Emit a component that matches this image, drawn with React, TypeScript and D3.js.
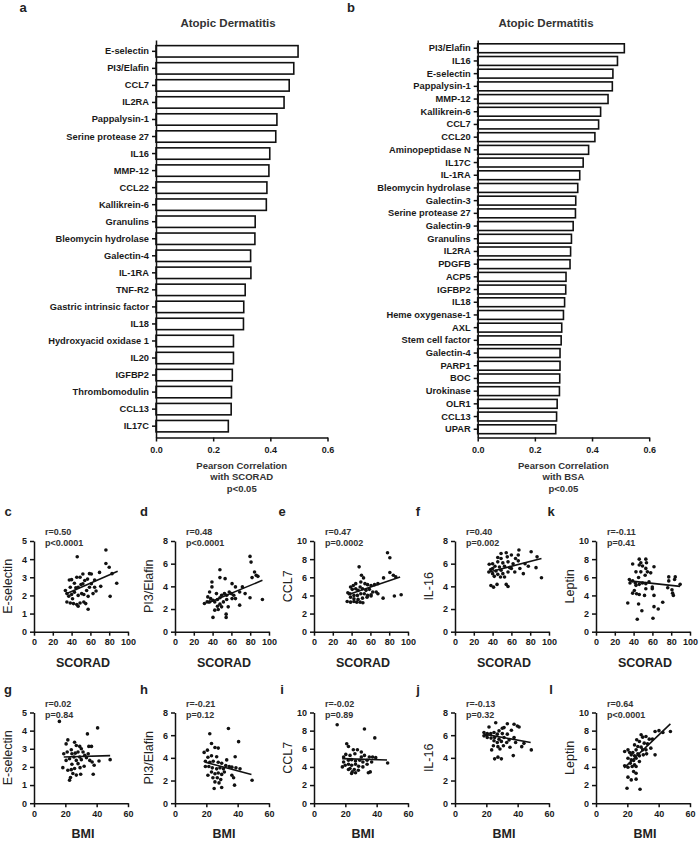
import React, { useEffect, useRef } from "react";
import * as d3 from "d3";

const FONT = "'Liberation Sans', Arial, Helvetica, sans-serif";

// panel a: correlation with SCORAD
const scoradProteins = [
  "E-selectin", "PI3/Elafin", "CCL7", "IL2RA", "Pappalysin-1", "Serine protease 27",
  "IL16", "MMP-12", "CCL22", "Kallikrein-6", "Granulins", "Bleomycin hydrolase",
  "Galectin-4", "IL-1RA", "TNF-R2", "Gastric intrinsic factor", "IL18",
  "Hydroxyacid oxidase 1", "IL20", "IGFBP2", "Thrombomodulin", "CCL13", "IL17C",
];
const scoradCorr = [
  0.497, 0.482, 0.466, 0.448, 0.423, 0.419, 0.398, 0.395, 0.388, 0.386, 0.347, 0.346,
  0.331, 0.332, 0.312, 0.307, 0.306, 0.271, 0.271, 0.267, 0.264, 0.263, 0.253,
];

// panel b: correlation with BSA
const bsaProteins = [
  "PI3/Elafin", "IL16", "E-selectin", "Pappalysin-1", "MMP-12", "Kallikrein-6", "CCL7",
  "CCL20", "Aminopeptidase N", "IL17C", "IL-1RA", "Bleomycin hydrolase", "Galectin-3",
  "Serine protease 27", "Galectin-9", "Granulins", "IL2RA", "PDGFB", "ACP5", "IGFBP2",
  "IL18", "Heme oxygenase-1", "AXL", "Stem cell factor", "Galectin-4", "PARP1", "BOC",
  "Urokinase", "OLR1", "CCL13", "UPAR",
];
const bsaCorr = [
  0.513, 0.489, 0.473, 0.471, 0.456, 0.43, 0.423, 0.41, 0.388, 0.369, 0.357, 0.35, 0.343,
  0.342, 0.334, 0.328, 0.325, 0.323, 0.309, 0.308, 0.304, 0.3, 0.294, 0.292, 0.288, 0.288,
  0.287, 0.286, 0.278, 0.276, 0.273,
];
const corrTicks = [0, 0.2, 0.4, 0.6];

// scatter data [x, y]
const eselScorad = [
  [46, 4.13], [76.5, 4.5], [76.5, 3.76], [80, 3.55], [83, 3.2], [88, 2.67], [81, 1.95],
  [57.6, 1.24], [69.7, 3.27], [61, 3.18], [59, 3.2], [52, 3.18], [49, 3.0], [45.5, 3.0],
  [40, 2.87], [37.6, 2.85], [33.4, 2.27], [35, 2.1], [35, 1.64], [38.6, 1.58], [42, 1.55],
  [45.5, 1.5], [47, 1.4], [49, 1.58], [53, 1.64], [55, 1.55], [37, 1.96], [40, 2.05],
  [43, 2.18], [44.5, 2.42], [47, 2.45], [50, 2.6], [52, 2.64], [54, 2.82], [57, 2.9],
  [47, 2.0], [50.7, 2.1], [53, 2.05], [56, 2.27], [59, 2.45], [61, 2.64], [64.5, 2.45],
  [66, 2.24], [71, 2.5], [64.5, 2.85], [43, 2.67], [38.6, 2.45], [41, 1.82], [62.8, 2.1],
  [57.6, 1.95],
];
const pi3Scorad = [
  [79.8, 6.64], [80.9, 6.14], [84.6, 5.26], [86.4, 4.97], [88.2, 4.88], [82, 4.77],
  [93, 2.84], [79.8, 3.0], [71.7, 3.95], [74.6, 3.36], [68.8, 3.5], [64.3, 3.95],
  [60.7, 4.24], [53.3, 4.68], [47.8, 5.47], [47.8, 4.77], [39.3, 4.39], [39.3, 3.95],
  [36.8, 3.5], [34.9, 3.07], [37.9, 2.92], [40.4, 2.78], [42.3, 2.63], [45.2, 2.84],
  [47.8, 3.0], [49.6, 3.22], [52.6, 3.36], [55, 3.22], [57.7, 3.5], [59.9, 3.36],
  [62.5, 3.22], [60.7, 2.92], [55, 2.84], [51.5, 2.63], [47.8, 2.43], [45.2, 2.25],
  [49.6, 2.19], [46, 1.96], [42.3, 1.9], [40.4, 1.26], [54.4, 1.55], [54.4, 1.26],
  [68.8, 2.34], [56.6, 2.19], [44.1, 3.36], [64.3, 2.92], [36.8, 2.63], [31.3, 2.49],
  [34.2, 2.63],
];
const ccl7Scorad = [
  [78.2, 8.7], [80.7, 8.15], [48, 7.15], [50.5, 6.22], [52.7, 5.93], [80.7, 6.52],
  [84.4, 6.22], [87, 6.04], [74, 5.93], [68, 5.3], [64.4, 5.19], [60.7, 5.1], [57, 5.19],
  [54.2, 5.3], [49.8, 5.48], [44.4, 5.3], [41.8, 5.1], [38.9, 4.93], [40.7, 4.67],
  [44.4, 4.74], [46.9, 4.56], [51.6, 4.74], [55.3, 4.56], [58.9, 4.67], [62.5, 4.37],
  [60.7, 4.07], [57, 4.0], [53.5, 4.19], [49.8, 4.19], [46.2, 4.0], [42.5, 4.0],
  [38.2, 4.19], [36, 4.3], [38.9, 3.81], [42.5, 3.63], [46.9, 3.56], [51.6, 3.7],
  [56.4, 3.81], [60.7, 3.93], [35.3, 3.33], [38.9, 3.26], [42.5, 3.33], [45.5, 3.26],
  [49.1, 3.26], [52, 3.19], [73.5, 3.7], [85.5, 3.93], [92.7, 4.07], [66.2, 4.37],
  [68, 4.19], [49.1, 4.93],
];
const il16Scorad = [
  [68, 7.2], [81, 7.05], [49, 6.9], [54.5, 6.96], [60, 6.76], [67.3, 6.76], [64.4, 6.46],
  [55.6, 6.6], [49, 6.46], [45.5, 6.55], [40, 6.0], [45.5, 6.16], [50.9, 6.07],
  [56.4, 6.16], [61.8, 6.0], [67.3, 6.25], [74.5, 6.0], [87.3, 6.6], [86.2, 5.65],
  [92, 4.76], [72.7, 5.12], [63.6, 5.27], [36, 5.27], [38, 5.48], [40, 5.57], [42.5, 5.77],
  [47.3, 5.71], [52.7, 5.77], [58.2, 5.65], [49, 5.42], [43.6, 5.36], [40, 5.12],
  [45.5, 5.06], [50.9, 5.12], [48.4, 4.82], [41.8, 4.88], [52.7, 4.82], [38.2, 4.08],
  [41, 3.93], [44.7, 4.17], [54.5, 4.17], [56.4, 3.99], [60, 5.57], [69, 5.57], [78, 5.77],
  [36.4, 5.95], [56.4, 5.27],
];
const leptinScorad = [
  [46, 8.0], [53, 8.0], [53.7, 7.6], [47.7, 7.6], [39, 7.46], [46, 7.35], [49.5, 7.24],
  [61.7, 7.16], [53, 6.98], [42.5, 6.6], [47.7, 6.6], [54.7, 6.6], [58.2, 6.49],
  [45.3, 5.97], [52.3, 6.23], [77.4, 6.04], [84.3, 6.04], [83.6, 5.75], [77.4, 5.6],
  [35.5, 5.75], [36.2, 5.37], [39, 5.6], [41.8, 5.37], [46, 5.22], [49.5, 5.37], [53, 5.3],
  [56.4, 5.49], [42.5, 5.11], [40.8, 4.55], [43.2, 4.18], [39, 4.25], [46, 4.1], [53, 4.74],
  [59.9, 4.74], [59.9, 4.93], [51.6, 4.0], [61.7, 4.0], [76.3, 4.85], [80.8, 4.63],
  [81.5, 4.25], [82.3, 4.0], [89.5, 5.22], [71, 3.25], [33.8, 3.17], [45.3, 3.06],
  [48.8, 2.31], [61.7, 2.76], [66.2, 2.5], [43.9, 1.38], [60.6, 1.49],
];
const eselBmi = [
  [16.2, 4.51], [40.6, 4.15], [34.1, 3.82], [21.6, 3.49], [20.5, 3.27], [25.9, 3.36],
  [27, 3.18], [29.2, 3.13], [30.2, 3.0], [35, 3.13], [36.7, 3.13], [23.8, 2.95],
  [21.2, 2.82], [19, 2.73], [24.2, 2.73], [26.3, 2.76], [28.1, 2.82], [31.3, 2.82],
  [32.4, 2.64], [29.2, 2.55], [25.5, 2.55], [22.7, 2.45], [27, 2.36], [30.2, 2.4],
  [33.5, 2.51], [37.1, 2.27], [41.5, 2.33], [48.6, 2.4], [38.4, 2.09], [24.2, 2.15],
  [28.1, 2.18], [25.9, 1.91], [23.8, 1.85], [21.6, 1.82], [18.4, 1.96], [29.4, 1.96],
  [37.8, 1.6], [24.8, 1.64], [27, 1.55], [29.8, 1.6], [23.3, 1.42], [22.7, 1.27],
  [32, 2.04], [34.6, 2.73], [35.6, 2.36], [20.5, 2.36],
];
const pi3Bmi = [
  [34.1, 6.59], [22.2, 6.13], [23.3, 5.26], [40.6, 5.43], [25.5, 4.91], [27.6, 4.86],
  [20.7, 4.68], [18.6, 4.48], [38.4, 4.1], [21, 4.05], [23.3, 4.19], [26.6, 4.1],
  [19.4, 3.7], [22.2, 3.61], [24.4, 3.7], [27.6, 3.61], [29.8, 3.53], [32.4, 3.32],
  [34.6, 3.24], [19.4, 3.24], [21.6, 3.24], [23.8, 3.12], [26.6, 3.03], [28.7, 3.12],
  [30.9, 3.03], [36.3, 3.18], [38.9, 3.12], [41.5, 3.03], [23.3, 2.75], [25.5, 2.6],
  [27.6, 2.66], [29.8, 2.54], [21, 2.46], [24.2, 2.25], [27, 2.25], [29.2, 2.08],
  [25.5, 1.88], [28.1, 1.79], [36.3, 2.46], [37.4, 2.25], [49.2, 2.02], [38, 1.59],
  [25, 1.3], [29.8, 1.39], [31.5, 2.75], [33, 3.82],
];
const ccl7Bmi = [
  [14.8, 8.65], [32.2, 8.18], [38.8, 7.2], [20.9, 6.55], [22, 6.25], [25.1, 5.89],
  [27.7, 5.89], [30.2, 5.64], [20.3, 5.38], [18.9, 5.09], [23, 5.27], [26.1, 5.45],
  [32.2, 5.27], [35.3, 5.09], [37.4, 5.09], [39.4, 5.02], [22, 4.73], [24, 4.8],
  [26.5, 4.65], [29.2, 4.73], [31.2, 4.55], [33.9, 4.73], [18.9, 4.55], [19.9, 4.18],
  [22, 4.29], [24, 4.18], [26.5, 4.29], [28.5, 4.07], [31.2, 4.0], [33.9, 4.29],
  [18.1, 4.0], [23, 3.82], [25.7, 3.71], [28.3, 3.64], [24.4, 3.45], [26.5, 3.35],
  [24, 3.27], [34.7, 3.35], [35.9, 3.45], [47, 4.44], [36.8, 4.55], [22, 3.71],
  [30.2, 5.09],
];
const il16Bmi = [
  [26, 7.1], [33.4, 7.01], [39.8, 6.81], [37.7, 6.96], [21.7, 6.72], [30.2, 6.61],
  [31.3, 6.67], [28.1, 6.38], [36, 6.43], [40.9, 6.72], [18.5, 6.23], [20.6, 6.14],
  [22.8, 6.14], [24.9, 6.23], [27, 6.09], [30.2, 6.14], [33.4, 6.09], [18.5, 5.94],
  [20.6, 5.8], [23, 5.74], [25.3, 5.8], [28.1, 5.65], [31.3, 5.8], [34.5, 5.57],
  [37.7, 5.8], [24.9, 5.51], [27, 5.36], [29.6, 5.45], [33, 5.36], [38.7, 5.36],
  [44, 5.28], [24.5, 5.07], [27.4, 4.99], [30.9, 5.07], [28.7, 4.78], [23.4, 4.7],
  [48.7, 4.7], [42.6, 4.99], [25.3, 3.91], [27.4, 4.06], [29.6, 3.91], [37.2, 4.2],
  [20.2, 6.0], [35.1, 4.93],
];
const leptinBmi = [
  [37.7, 7.9], [40.2, 8.0], [42.7, 7.8], [47.5, 7.9], [28.8, 7.54], [29.8, 7.28],
  [31.9, 7.35], [34, 7.06], [36, 7.06], [26, 6.99], [27.7, 6.8], [30.8, 6.62],
  [32.9, 6.54], [24.6, 6.43], [26.7, 6.25], [28.8, 6.18], [29.8, 5.88], [31.9, 5.88],
  [25.6, 5.88], [18.3, 5.7], [20.4, 5.88], [21.5, 5.59], [23.5, 5.59], [22.5, 5.33],
  [24.6, 5.22], [26.7, 5.44], [27.7, 5.22], [30.2, 5.33], [32.3, 5.44], [20.4, 4.96],
  [22.5, 4.78], [24, 4.7], [25.6, 4.96], [27.7, 4.6], [21.9, 4.41], [24.6, 4.23],
  [18.3, 4.12], [20.4, 3.97], [23.1, 4.04], [25.6, 4.04], [37.7, 5.33], [24, 3.49],
  [25.6, 3.31], [20.4, 2.87], [22.5, 2.57], [25.6, 2.65], [19.8, 1.65], [28.1, 1.54],
  [35, 6.07],
];

// regression lines [x, y] end points
const fitLines = [
  [[35, 2.1], [89, 3.33]],
  [[35, 2.54], [93, 4.53]],
  [[36, 4.07], [91.6, 6.04]],
  [[36.4, 5.27], [92, 6.46]],
  [[35.5, 5.6], [89.5, 5.0]],
  [[19, 2.55], [48.6, 2.62]],
  [[19.4, 3.61], [48.8, 2.54]],
  [[18, 4.91], [46.6, 4.76]],
  [[18.5, 6.09], [48.3, 5.36]],
  [[18, 3.9], [47.5, 8.75]],
];

const scatterSets = [
  eselScorad, pi3Scorad, ccl7Scorad, il16Scorad, leptinScorad,
  eselBmi, pi3Bmi, ccl7Bmi, il16Bmi, leptinBmi,
];
const scatterLetters = ["c", "d", "e", "f", "k", "g", "h", "i", "j", "l"];
const scatterYLabels = [
  "E-selectin", "PI3/Elafin", "CCL7", "IL-16", "Leptin",
  "E-selectin", "PI3/Elafin", "CCL7", "IL-16", "Leptin",
];
const scatterXLabels = ["SCORAD", "SCORAD", "SCORAD", "SCORAD", "SCORAD", "BMI", "BMI", "BMI", "BMI", "BMI"];
const scatterXMax = [100, 100, 100, 100, 100, 60, 60, 60, 60, 60];
const scatterYMax = [5, 8, 10, 8, 10, 5, 8, 10, 8, 10];
const scatterYStep = [1, 2, 2, 2, 2, 1, 2, 2, 2, 2];
const scatterR = ["r=0.50", "r=0.48", "r=0.47", "r=0.40", "r=-0.11", "r=0.02", "r=-0.21", "r=-0.02", "r=-0.13", "r=0.64"];
const scatterP = ["p<0.0001", "p<0.0001", "p=0.0002", "p=0.002", "p=0.41", "p=0.84", "p=0.12", "p=0.89", "p=0.32", "p<0.0001"];

const styleAxis = (g, size = 9) => {
  g.selectAll("path.domain").attr("stroke", "#111").attr("stroke-width", 1.5);
  g.selectAll(".tick line").attr("stroke", "#111").attr("stroke-width", 1.5);
  g.selectAll(".tick text")
    .attr("fill", "#1a1a1a")
    .style("font-family", FONT)
    .style("font-size", `${size}px`)
    .style("font-weight", "bold");
};

const App = () => {
  const svgRef = useRef(null);

  useEffect(() => {
    const svg = d3.select(svgRef.current);
    svg.selectAll("*").remove();

    const text = (x, y, s, size, weight = "bold", anchor = "middle", fill = "#1a1a1a") =>
      svg
        .append("text")
        .attr("x", x)
        .attr("y", y)
        .attr("text-anchor", anchor)
        .attr("fill", fill)
        .style("font-family", FONT)
        .style("font-size", `${size}px`)
        .style("font-weight", weight)
        .text(s);

    // bar panels
    const drawBars = (names, vals, left, letter, letterX, titleX, withWhat, pad) => {
      const top = 40;
      const bottom = 437.5;
      const x = d3.scaleLinear().domain([0, 0.6]).range([left, left + 171.5]);
      const y = d3.scaleBand().domain(names).range([top, bottom]).padding(pad);
      const g = svg.append("g");

      g.selectAll("rect")
        .data(names)
        .join("rect")
        .attr("x", x(0))
        .attr("y", (d) => y(d))
        .attr("width", (d, i) => x(vals[i]) - x(0))
        .attr("height", y.bandwidth())
        .attr("fill", "#fff")
        .attr("stroke", "#111")
        .attr("stroke-width", 1.6);

      const ya = svg
        .append("g")
        .attr("transform", `translate(${left},0)`)
        .call(d3.axisLeft(y).tickSize(4).tickSizeOuter(0).tickPadding(3));
      styleAxis(ya, 9.3);
      const xa = svg
        .append("g")
        .attr("transform", `translate(0,${bottom})`)
        .call(
          d3.axisBottom(x).tickValues(corrTicks).tickFormat(d3.format(".1f")).tickSize(4).tickSizeOuter(0).tickPadding(5)
        );
      styleAxis(xa, 9);

      const cx = x(0.3);
      text(cx, 468.5, "Pearson Correlation", 9.5, "bold", "middle", "#333");
      text(cx, 480, withWhat, 9.5, "bold", "middle", "#333");
      text(cx, 491.5, "p<0.05", 9.5, "bold", "middle", "#333");
      text(titleX, 27, "Atopic Dermatitis", 11.5, "bold", "middle", "#333");
      text(letterX, 12, letter, 13, "bold", "middle", "#222");
    };

    drawBars(scoradProteins, scoradCorr, 156, "a", 23, 228, "with SCORAD", 0.33);
    drawBars(bsaProteins, bsaCorr, 477.7, "b", 351, 546, "with BSA", 0.3);

    // scatter panels
    const colLeft = [34, 175, 314, 455, 596];
    const rowTop = [541, 712.5];
    const letterX = [8, 144, 282, 418, 551];
    const letterY = [516, 694];
    const plotW = 94;
    const plotH = 90.7;

    scatterSets.forEach((pts, i) => {
      const col = i % 5;
      const row = Math.floor(i / 5);
      const x0 = colLeft[col];
      const y0 = rowTop[row];
      const x = d3.scaleLinear().domain([0, scatterXMax[i]]).range([x0, x0 + plotW]);
      const y = d3.scaleLinear().domain([0, scatterYMax[i]]).range([y0 + plotH, y0]);

      const xa = svg
        .append("g")
        .attr("transform", `translate(0,${y0 + plotH})`)
        .call(
          d3
            .axisBottom(x)
            .tickValues(d3.range(0, scatterXMax[i] + 1, 20))
            .tickFormat(d3.format("d"))
            .tickSize(4)
            .tickSizeOuter(0)
            .tickPadding(3)
        );
      styleAxis(xa, 9);
      const ya = svg
        .append("g")
        .attr("transform", `translate(${x0},0)`)
        .call(
          d3
            .axisLeft(y)
            .tickValues(d3.range(0, scatterYMax[i] + 0.01, scatterYStep[i]))
            .tickFormat(d3.format("d"))
            .tickSize(4)
            .tickSizeOuter(0)
            .tickPadding(3)
        );
      styleAxis(ya, 9);

      svg
        .append("g")
        .selectAll("circle")
        .data(pts)
        .join("circle")
        .attr("cx", (d) => x(d[0]))
        .attr("cy", (d) => y(d[1]))
        .attr("r", 1.8)
        .attr("fill", "#111");

      svg
        .append("path")
        .datum(fitLines[i])
        .attr("fill", "none")
        .attr("stroke", "#111")
        .attr("stroke-width", 1.6)
        .attr("d", d3.line().x((d) => x(d[0])).y((d) => y(d[1])));

      text(x0 + 11, y0 - 6, scatterR[i], 9, "bold", "start", "#333");
      text(x0 + 11, y0 + 5, scatterP[i], 9, "bold", "start", "#333");
      text(x0 + plotW / 2 + 2, y0 + plotH + 35, scatterXLabels[i], 12.5, "bold", "middle", "#222");
      svg
        .append("text")
        .attr("transform", `translate(${x0 - 22},${y0 + plotH / 2}) rotate(-90)`)
        .attr("text-anchor", "middle")
        .attr("fill", "#222")
        .style("font-family", FONT)
        .style("font-size", "12.5px")
        .text(scatterYLabels[i]);
      text(letterX[col], letterY[row], scatterLetters[i], 13, "bold", "middle", "#222");
    });
  }, []);

  return (
    <div>
      <svg
        ref={svgRef}
        width={700}
        height={841}
        style={{ position: "absolute", left: 0, top: 0, background: "#fff" }}
      />
    </div>
  );
};

export default App;
